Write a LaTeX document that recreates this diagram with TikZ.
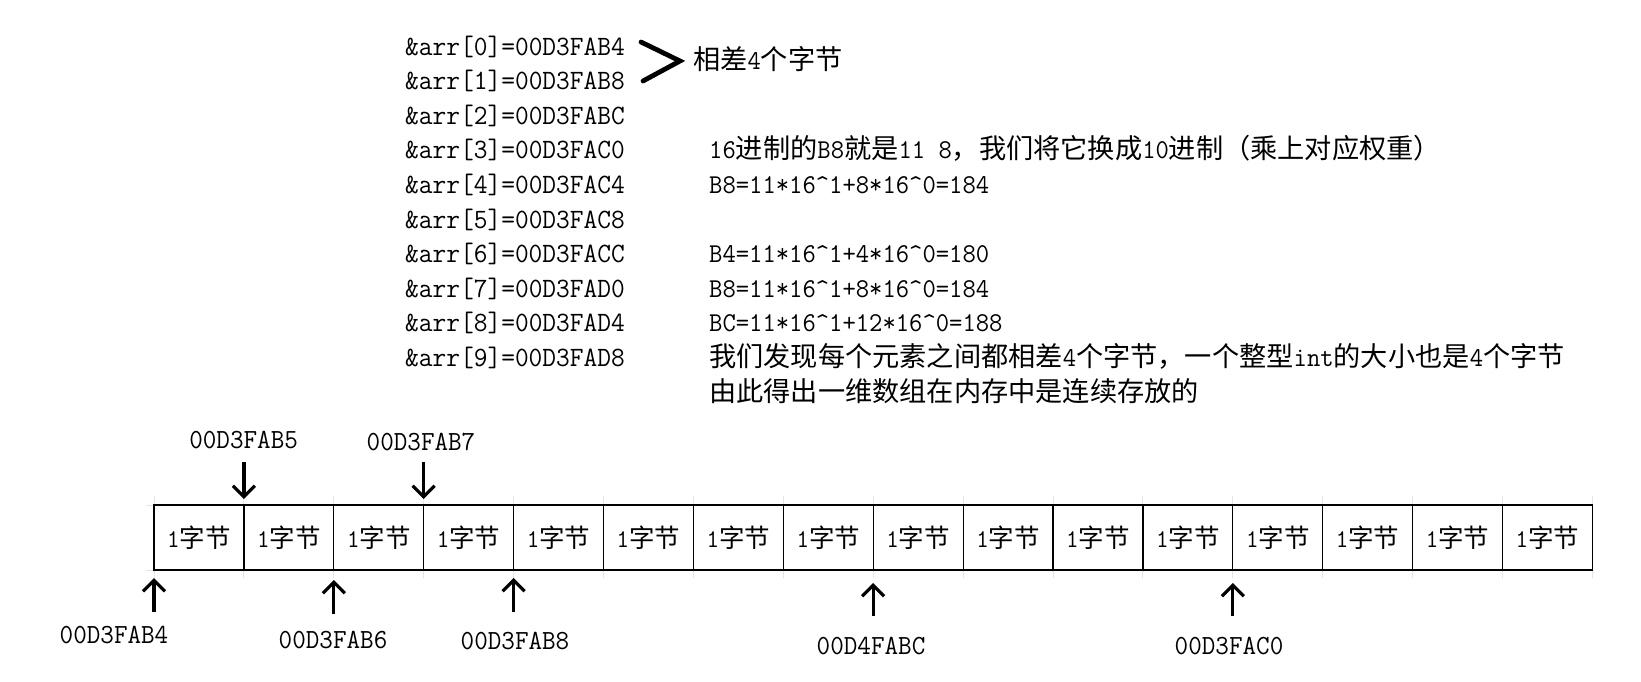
\documentclass[tikz,border=0pt]{standalone}
\usepackage{fontspec}
\setmainfont{Latin Modern Mono}[FakeStretch=0.952]
\newfontfamily\zh{Noto Sans CJK SC}
\usetikzlibrary{arrows.meta}
\newcommand{\hz}[1]{{\zh #1}}

\begin{document}
\begin{tikzpicture}[x=1pt,y=-1pt,
  code/.style={anchor=base west, inner sep=0pt, font=\fontsize{28}{34}\selectfont},
  note/.style={anchor=base west, inner sep=0pt, font=\fontsize{27.2}{33}\selectfont},
  addr/.style={inner sep=0pt, font=\fontsize{27.7}{33}\selectfont},
  cell/.style={draw, line width=1.2pt, outer sep=0pt, minimum width=89.9pt, minimum height=65pt, inner sep=0pt, font=\fontsize{25.5}{30}\selectfont},
  ptr/.style={line width=3.2pt, -{Straight Barb[length=11pt,width=22pt]}},
  tick/.style={gray!20, line width=1pt}]
\useasboundingbox (0,0) rectangle (1641,681);

% top: addresses of the elements
\foreach \i/\a in {0/B4,1/B8,2/BC,3/C0,4/C4,5/C8,6/CC,7/D0,8/D4,9/D8}
  \node[code] (arr\i) at (405,{55+34.6*\i}) {\&arr[\i]=00D3FA\a};
\draw[line width=4.8pt, line cap=round] (641,42) -- (680,61) -- (643,81);
\node[note] (gap) at (693,69) {\hz{相差}4\hz{个字节}};

% right: explanation
\node[note] (n3) at (709,{55+34.6*3}) {16\hz{进制的}B8\hz{就是}11 8\hz{，我们将它换成}10\hz{进制（乘上对应权重）}};
\node[note] (n4) at (709,{55+34.6*4}) {B8=11*16\textasciicircum1+8*16\textasciicircum0=184};
\node[note] (n6) at (709,{55+34.6*6}) {B4=11*16\textasciicircum1+4*16\textasciicircum0=180};
\node[note] (n7) at (709,{55+34.6*7}) {B8=11*16\textasciicircum1+8*16\textasciicircum0=184};
\node[note] (n8) at (709,{55+34.6*8}) {BC=11*16\textasciicircum1+12*16\textasciicircum0=188};
\node[note] (n9) at (709,{55+34.6*9}) {\hz{我们发现每个元素之间都相差}4\hz{个字节，一个整型}int\hz{的大小也是}4\hz{个字节}};
\node[note] (n10) at (709,{55+34.6*10}) {\hz{由此得出一维数组在内存中是连续存放的}};

% bottom: memory, one cell per byte
\foreach \i in {0,...,16}
  {
    \draw[tick] ({154+89.9*\i},496) -- ++(0,9);
    \draw[tick] ({154+89.9*\i},570) -- ++(0,8);
  }
\draw[tick] (146,505) -- (154,505);
\draw[tick] (146,570) -- (154,570);
\foreach \i in {0,...,15}
  \node[cell] (c\i) at ({154+89.9*\i+44.95},537.5) {1\hz{字节}};

% pointers into the memory
\node[addr] (a5) at (243.6,440) {00D3FAB5};
\node[addr] (a7) at (421,442) {00D3FAB7};
\draw[ptr] ([yshift=43pt]c1.north west) -- ([yshift=6pt]c1.north west);
\draw[ptr] ([yshift=43pt]c3.north west) -- ([yshift=6pt]c3.north west);

\node[addr] (a4) at (114,635) {00D3FAB4};
\node[addr] (a6) at (333,640) {00D3FAB6};
\node[addr] (a8) at (515,641) {00D3FAB8};
\node[addr] (aC) at (871,646) {00D4FABC};
\node[addr] (a0) at (1229,646) {00D3FAC0};
\draw[ptr] ([yshift=-42pt]c0.south west) -- ([yshift=-8pt]c0.south west);
\draw[ptr] ([yshift=-44pt]c2.south west) -- ([yshift=-10pt]c2.south west);
\draw[ptr] ([yshift=-42pt]c4.south west) -- ([yshift=-8pt]c4.south west);
\draw[ptr] ([yshift=-46pt]c8.south west) -- ([yshift=-13pt]c8.south west);
\draw[ptr] ([yshift=-46pt]c12.south west) -- ([yshift=-13pt]c12.south west);
\end{tikzpicture}
\end{document}
